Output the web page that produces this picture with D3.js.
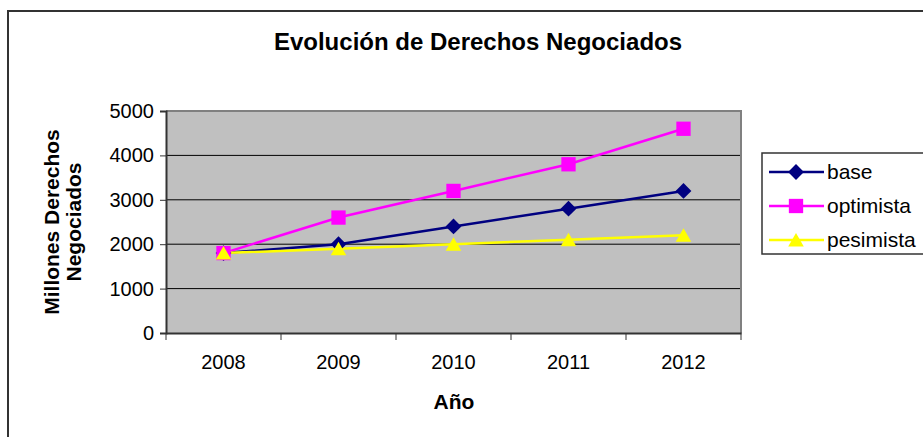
<!DOCTYPE html>
<html>
  <head>
    <meta charset="utf-8">
    <title>Evolucion de Derechos Negociados</title>
    <style>
      body { margin: 0; background-color: white; }
      svg { display: block; font-family: "Liberation Sans", Arial, sans-serif; }
    </style>
  </head>
  <body>
    <div id="chart"></div>

    <script src="https://d3js.org/d3.v7.min.js"></script>
    <script>
    var years = ["2008", "2009", "2010", "2011", "2012"];
    var base = [1800, 2000, 2400, 2800, 3200];
    var optimista = [1800, 2600, 3200, 3800, 4600];
    var pesimista = [1800, 1900, 2000, 2100, 2200];
    var yTicks = [0, 1000, 2000, 3000, 4000, 5000];

    // diamond = square turned 45 degrees, like the spreadsheet marker
    var series = [
      {name: "base", values: base, color: "#000080", shape: d3.symbolSquare, size: 125, rot: 45, dy: 0},
      {name: "optimista", values: optimista, color: "#ff00ff", shape: d3.symbolSquare, size: 205, rot: 0, dy: 0},
      {name: "pesimista", values: pesimista, color: "#ffff00", shape: d3.symbolTriangle, size: 105, rot: 0, dy: 2}
    ];

    var width = 923;
    var height = 437;
    var plot = {left: 166, top: 111, right: 741, bottom: 333};
    var font = "Liberation Sans, Arial, sans-serif";

    var svg = d3.select("#chart").append("svg")
      .attr("width", width)
      .attr("height", height);

    // outer frame (runs off the right and bottom edges)
    svg.append("rect")
      .attr("x", 8).attr("y", 11)
      .attr("width", 940).attr("height", 460)
      .attr("fill", "white")
      .attr("stroke", "#333")
      .attr("stroke-width", 2);

    var x = d3.scaleBand().domain(years).range([plot.left, plot.right]);
    var y = d3.scaleLinear().domain([0, 5000]).range([plot.bottom, plot.top]);

    svg.append("rect")
      .attr("x", plot.left).attr("y", plot.top)
      .attr("width", plot.right - plot.left)
      .attr("height", plot.bottom - plot.top)
      .attr("fill", "#c0c0c0");

    svg.selectAll("line.grid")
      .data(yTicks.slice(1))
      .enter().append("line")
      .attr("class", "grid")
      .attr("x1", plot.left).attr("x2", plot.right)
      .attr("y1", function(d) { return y(d); })
      .attr("y2", function(d) { return y(d); })
      .attr("stroke", "black")
      .attr("stroke-width", 1);

    // plot border
    svg.append("path")
      .attr("d", "M" + plot.left + "," + plot.top + "H" + plot.right + "V" + plot.bottom)
      .attr("fill", "none")
      .attr("stroke", "#808080")
      .attr("stroke-width", 2);

    // y axis
    var yAxis = svg.append("g")
      .attr("transform", "translate(" + plot.left + ",0)")
      .call(d3.axisLeft(y).tickValues(yTicks).tickSize(6).tickPadding(6).tickFormat(d3.format("d")));
    yAxis.attr("font-size", 20).attr("font-family", font);
    yAxis.select(".domain").attr("stroke", "#333").attr("stroke-width", 2);
    yAxis.selectAll(".tick line").attr("stroke", "#333");
    yAxis.selectAll("text").attr("fill", "black");

    // x axis, ticks on band edges
    var xAxis = svg.append("g")
      .attr("transform", "translate(0," + plot.bottom + ")")
      .call(d3.axisBottom(x).tickSize(0).tickPadding(22));
    xAxis.attr("font-size", 20).attr("font-family", font);
    xAxis.select(".domain").attr("stroke", "#333").attr("stroke-width", 2);
    xAxis.selectAll("text").attr("fill", "black");
    xAxis.selectAll("line.edge")
      .data(years.concat(["end"]))
      .enter().append("line")
      .attr("class", "edge")
      .attr("x1", function(d, i) { return plot.left + i * x.step(); })
      .attr("x2", function(d, i) { return plot.left + i * x.step(); })
      .attr("y1", 0).attr("y2", 7)
      .attr("stroke", "#333");

    var line = d3.line()
      .x(function(d, i) { return x(years[i]) + x.bandwidth() / 2; })
      .y(function(d) { return y(d); });

    series.forEach(function(s) {
      svg.append("path")
        .datum(s.values)
        .attr("d", line)
        .attr("fill", "none")
        .attr("stroke", s.color)
        .attr("stroke-width", 2.5);
    });

    series.forEach(function(s) {
      svg.selectAll("path.m-" + s.name)
        .data(s.values)
        .enter().append("path")
        .attr("class", "m-" + s.name)
        .attr("d", d3.symbol().type(s.shape).size(s.size))
        .attr("transform", function(d, i) {
          return "translate(" + (x(years[i]) + x.bandwidth() / 2) + "," + (y(d) + s.dy) + ") rotate(" + s.rot + ")";
        })
        .attr("fill", s.color);
    });

    // titles
    svg.append("text")
      .attr("x", 478).attr("y", 50)
      .attr("text-anchor", "middle")
      .attr("font-size", 24).attr("font-weight", "bold")
      .text("Evolución de Derechos Negociados");

    svg.append("text")
      .attr("x", 454).attr("y", 409)
      .attr("text-anchor", "middle")
      .attr("font-size", 21).attr("font-weight", "bold")
      .text("Año");

    var yTitle = svg.append("text")
      .attr("transform", "translate(59,222) rotate(-90)")
      .attr("text-anchor", "middle")
      .attr("font-size", 21).attr("font-weight", "bold");
    yTitle.append("tspan").attr("x", 0).attr("dy", 0).text("Millones Derechos");
    yTitle.append("tspan").attr("x", 0).attr("dy", 22).text("Negociados");

    // legend
    var legend = svg.append("g").attr("transform", "translate(762,153)");
    legend.append("rect")
      .attr("width", 170).attr("height", 101)
      .attr("fill", "white")
      .attr("stroke", "#333")
      .attr("stroke-width", 1.5);

    var rows = legend.selectAll("g.row")
      .data(series)
      .enter().append("g")
      .attr("class", "row")
      .attr("transform", function(d, i) { return "translate(0," + (19 + i * 34) + ")"; });
    rows.append("line")
      .attr("x1", 7).attr("x2", 62)
      .attr("stroke", function(d) { return d.color; })
      .attr("stroke-width", 2.5);
    rows.append("path")
      .attr("d", function(d) { return d3.symbol().type(d.shape).size(d.size)(); })
      .attr("transform", function(d) { return "translate(34," + d.dy + ") rotate(" + d.rot + ")"; })
      .attr("fill", function(d) { return d.color; });
    rows.append("text")
      .attr("x", 65).attr("dy", "0.35em")
      .attr("font-size", 21)
      .text(function(d) { return d.name; });
    </script>
  </body>
</html>
